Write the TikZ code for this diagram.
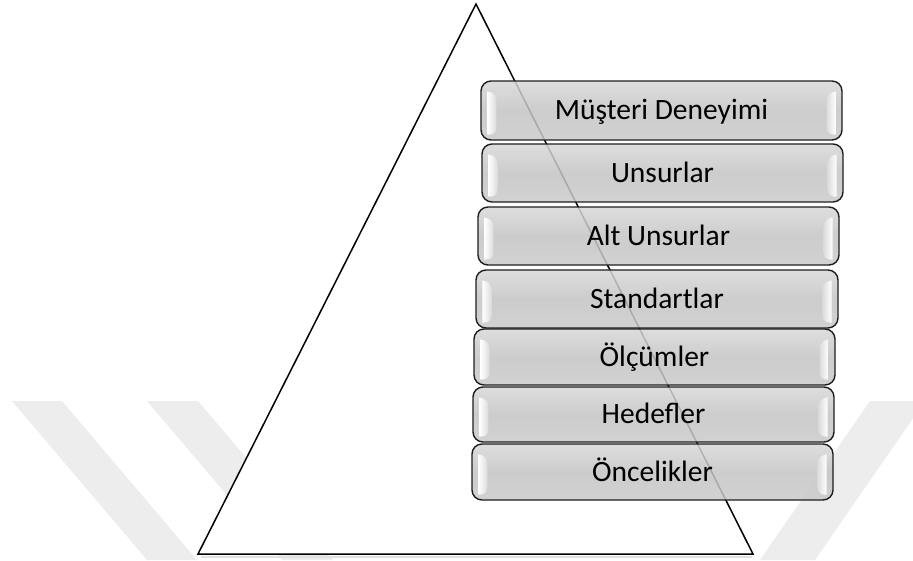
\documentclass[tikz,border=0pt]{standalone}
\usepackage{fontspec}
\setmainfont{Carlito}
\usetikzlibrary{calc}

\definecolor{band}{HTML}{EDEDED}
\definecolor{tierline}{HTML}{1E1E1E}
\definecolor{tiertop}{HTML}{D8D8D8}
\definecolor{tiermid}{HTML}{C4C4C4}
\definecolor{tierbot}{HTML}{CACACA}
\definecolor{glint}{HTML}{DCDCDC}

\begin{document}
\begin{tikzpicture}[x=1pt,y=-1pt,
  tier/.style={draw=tierline, line width=1.4pt, rounded corners=10pt, inner sep=0pt,
    top color=tiertop, bottom color=tierbot, middle color=tiermid,
    fill opacity=0.85, text opacity=1, text=black,
    text height=18.5pt, text depth=0pt,
    font=\fontsize{29.5}{34}\selectfont},
  pyramid/.style={draw=black, line width=1.5pt, fill=white, line join=miter},
  bandfill/.style={fill=band, draw=none}]

\useasboundingbox (0,0) rectangle (913,560);

% faint background bands
\fill[bandfill] (12,401) -- (62,401) -- (197,560) -- (147,560) -- cycle;
\fill[bandfill] (147,401) -- (198,401) -- (333,560) -- (282,560) -- cycle;
\fill[bandfill] (870,401) -- (925,401) -- (815,560) -- (760,560) -- cycle;

% pyramid
\coordinate (apex) at (476,4);
\coordinate (baseL) at (198,554);
\coordinate (baseR) at (753,554);
\draw[draw=black!12, line width=2.5pt] ($(baseL)+(3,3)$) -- ($(baseR)+(-1,3)$);
\draw[pyramid] (apex) -- (baseR) -- (baseL) -- cycle;

% tiers
\node[tier, minimum width=361pt, minimum height=59pt] (t1) at (661.5,110.5) {Müşteri Deneyimi};
\node[tier, minimum width=361pt, minimum height=58pt] (t2) at (662.5,173) {Unsurlar};
\node[tier, minimum width=361pt, minimum height=58pt] (t3) at (658.5,236) {Alt Unsurlar};
\node[tier, minimum width=362pt, minimum height=58pt] (t4) at (657,299) {Standartlar};
\node[tier, minimum width=361pt, minimum height=56pt] (t5) at (654.5,357) {Ölçümler};
\node[tier, minimum width=361pt, minimum height=55pt] (t6) at (653.5,414.5) {Hedefler};
\node[tier, minimum width=361pt, minimum height=56pt] (t7) at (652.5,472) {Öncelikler};

% glossy end highlights of each tier
\foreach \i in {1,...,7}{
  \shade[left color=white, right color=glint]
    ($(t\i.north west)+(7,11)$) .. controls ($(t\i.north west)+(13,12)$) and ($(t\i.north west)+(16,15)$) ..
    ($(t\i.north west)+(16,20)$) -- ($(t\i.south west)+(16,-13)$)
    .. controls ($(t\i.south west)+(16,-8)$) and ($(t\i.south west)+(13,-6)$) ..
    ($(t\i.south west)+(7,-6)$) -- cycle;
  \shade[right color=white, left color=glint]
    ($(t\i.north east)+(-7,11)$) .. controls ($(t\i.north east)+(-13,12)$) and ($(t\i.north east)+(-16,15)$) ..
    ($(t\i.north east)+(-16,20)$) -- ($(t\i.south east)+(-16,-13)$)
    .. controls ($(t\i.south east)+(-16,-8)$) and ($(t\i.south east)+(-13,-6)$) ..
    ($(t\i.south east)+(-7,-6)$) -- cycle;
}
\end{tikzpicture}
\end{document}
